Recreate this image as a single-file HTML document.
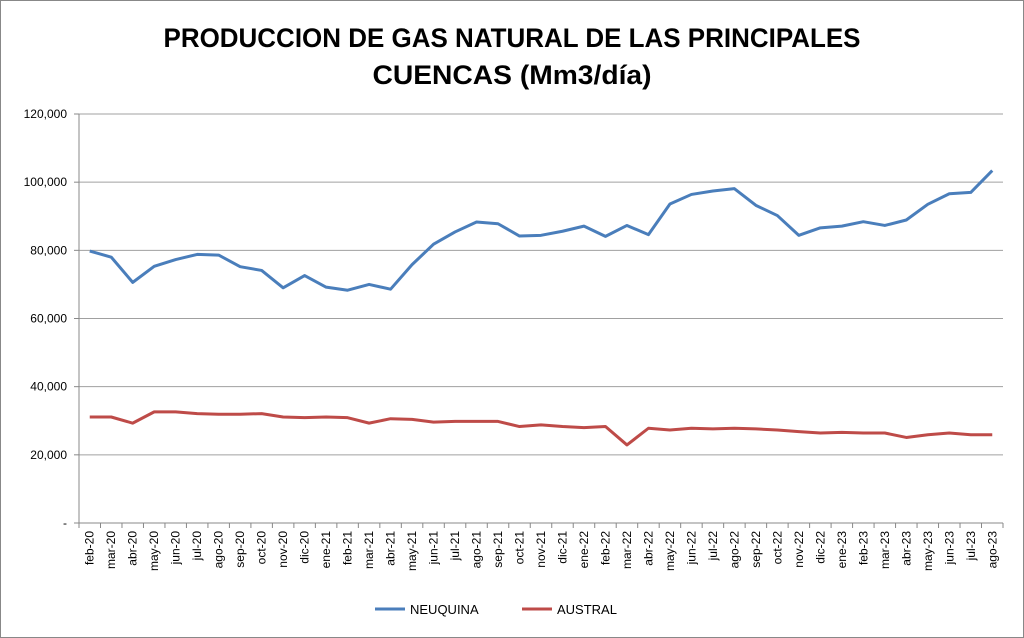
<!DOCTYPE html>
<html><head><meta charset="utf-8"><style>
body{margin:0;background:#fff;}
svg{display:block;font-family:"Liberation Sans",sans-serif;}
</style></head><body>
<svg id="c" width="1024" height="638">
<rect x="0.5" y="0.5" width="1023" height="637" fill="#fff" stroke="#888"/>
<text x="512" y="47" text-anchor="middle" font-size="27" font-weight="bold" textLength="697" lengthAdjust="spacingAndGlyphs">PRODUCCION DE GAS NATURAL DE LAS PRINCIPALES</text>
<text x="512" y="84" text-anchor="middle" font-size="27" font-weight="bold" textLength="279" lengthAdjust="spacingAndGlyphs">CUENCAS (Mm3/día)</text>
<g id="grid"></g><g id="axes"></g><g id="series"></g>
<g>
<line x1="375" y1="609" x2="405" y2="609" stroke="#4a7ebb" stroke-width="3"/>
<text x="410" y="614" font-size="13">NEUQUINA</text>
<line x1="522" y1="609" x2="552" y2="609" stroke="#be4b48" stroke-width="3"/>
<text x="557" y="614" font-size="13">AUSTRAL</text>
</g>
</svg>
<script>
const categories=["feb-20","mar-20","abr-20","may-20","jun-20","jul-20","ago-20","sep-20","oct-20","nov-20","dic-20","ene-21","feb-21","mar-21","abr-21","may-21","jun-21","jul-21","ago-21","sep-21","oct-21","nov-21","dic-21","ene-22","feb-22","mar-22","abr-22","may-22","jun-22","jul-22","ago-22","sep-22","oct-22","nov-22","dic-22","ene-23","feb-23","mar-23","abr-23","may-23","jun-23","jul-23","ago-23"];
const neuquina=[79800,78000,70600,75300,77300,78800,78600,75200,74100,69000,72600,69200,68300,70000,68600,75800,81800,85400,88300,87800,84200,84400,85600,87100,84100,87300,84600,93600,96400,97400,98100,93200,90200,84400,86600,87100,88400,87300,88900,93500,96600,97000,103400];
const austral=[31100,31100,29300,32600,32600,32100,31900,31900,32100,31100,30900,31100,30900,29300,30600,30400,29600,29800,29800,29800,28300,28800,28300,28000,28300,22900,27800,27300,27800,27600,27800,27600,27300,26800,26400,26600,26400,26400,25100,25900,26400,25900,25900];
const yTicks=[0,20000,40000,60000,80000,100000,120000];
const yTickLabels=["-","20,000","40,000","60,000","80,000","100,000","120,000"];
const NS="http://www.w3.org/2000/svg";
const L=79,R=1003,T=114,B=523;
const step=(R-L)/categories.length;
const xs=i=>L+step*(i+0.5);
const ys=v=>B-(v/120000)*(B-T);
function mk(tag,attrs,parent){const e=document.createElementNS(NS,tag);for(const k in attrs)e.setAttribute(k,attrs[k]);parent.appendChild(e);return e;}
const grid=document.getElementById('grid'),axes=document.getElementById('axes'),series=document.getElementById('series');
yTicks.forEach((v,i)=>{
  const y=ys(v);
  if(v>0){const g=mk('line',{x1:L,x2:R,y1:y,y2:y,stroke:'#a0a0a0','stroke-width':1},grid);
  
  }
  mk('line',{x1:L-5,x2:L,y1:y,y2:y,stroke:'#888'},axes);
  const t=mk('text',{x:L-12,y:y+4,'text-anchor':'end','font-size':12},axes);
  t.textContent=yTickLabels[i];
  
  
});
const ya=mk('line',{x1:L,x2:L,y1:T,y2:B,stroke:'#888'},axes);


const xa=mk('line',{x1:L,x2:R,y1:B,y2:B,stroke:'#888'},axes);


categories.forEach((c,i)=>{
  const x=xs(i);
  mk('line',{x1:L+step*i,x2:L+step*i,y1:B,y2:B+5,stroke:'#888'},axes);
  const t=mk('text',{x:0,y:0,'text-anchor':'end','font-size':12,transform:`translate(${x+4},${B+8}) rotate(-90)`},axes);
  t.textContent=c;
  
  
});
mk('line',{x1:R,x2:R,y1:B,y2:B+5,stroke:'#888'},axes);
function line(vals,color,name){
  const p=mk('polyline',{points:vals.map((v,i)=>xs(i)+','+ys(v)).join(' '),fill:'none',stroke:color,'stroke-width':3,'stroke-linejoin':'round'},series);
  
  
}
line(neuquina,'#4a7ebb','neuquina-line');
line(austral,'#be4b48','austral-line');
</script>
</body></html>
